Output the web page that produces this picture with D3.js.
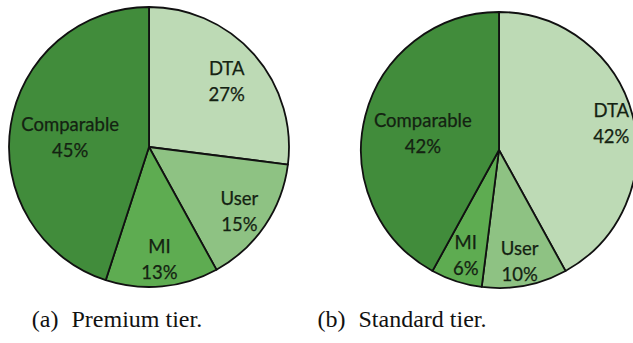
<!DOCTYPE html>
<html>
<head>
<meta charset="utf-8">
<script src="https://cdn.jsdelivr.net/npm/d3@7"></script>
<style>
  html, body { margin: 0; padding: 0; background: #ffffff; }
  svg { display: block; }
</style>
</head>
<body>
<svg id="chart" width="633" height="343"></svg>
<script>
// ---- data ----
const categories = ["DTA", "User", "MI", "Comparable"];
const premiumValues = [27, 15, 13, 45];
const standardValues = [42, 10, 6, 42];
const captionTags = ["(a)", "(b)"];
const captionTexts = ["Premium tier.", "Standard tier."];

// ---- styling / layout (not data) ----
const sliceColors = ["#bddab5", "#8ec283", "#5eac51", "#418c3b"];
const panels = [
  { values: premiumValues, cx: 149, cy: 147, r: 140, labelR: [0.74, 0.78, 0.79, 0.57], capX: 117 },
  { values: standardValues, cx: 499, cy: 150, r: 138, labelR: [0.84, 0.80, 0.78, 0.57], capX: 402 }
];

const svg = d3.select("#chart");
const color = d3.scaleOrdinal().domain(categories).range(sliceColors);
const pie = d3.pie().sort(null).value(d => d.value);

panels.forEach((p, pi) => {
  const data = categories.map((c, i) => ({ cat: c, value: p.values[i], idx: i }));
  const arcs = pie(data);
  const arc = d3.arc().innerRadius(0).outerRadius(p.r);
  const g = svg.append("g").attr("transform", `translate(${p.cx},${p.cy})`);

  g.selectAll("path.slice")
    .data(arcs)
    .join("path")
    .attr("class", "slice")
    .attr("d", arc)
    .attr("fill", d => color(d.data.cat))
    .attr("stroke", "#111")
    .attr("stroke-width", 1.8)
    .attr("stroke-linejoin", "round");

  const labels = g.selectAll("text.lbl")
    .data(arcs)
    .join("text")
    .attr("class", "lbl")
    .attr("transform", d => {
      const lr = p.r * p.labelR[d.data.idx];
      const c = d3.arc().innerRadius(lr).outerRadius(lr).centroid(d);
      return `translate(${c[0]},${c[1]})`;
    })
    .attr("text-anchor", "middle")
    .attr("font-family", "Lato, 'Open Sans', sans-serif")
    .attr("font-size", 18.5)
    .attr("fill", "#142212")
    .attr("stroke", "#142212")
    .attr("stroke-width", 0.25);

  labels.append("tspan").attr("x", 0).attr("dy", "-0.2em").text(d => d.data.cat);
  labels.append("tspan").attr("x", 0).attr("dy", "1.4em").text(d => d.data.value + "%");

  const cap = svg.append("text")
    .attr("x", p.capX)
    .attr("y", 327)
    .attr("text-anchor", "middle")
    .attr("font-family", "'Liberation Serif', 'DejaVu Serif', serif")
    .attr("font-size", 24)
    .attr("fill", "#111");
  cap.append("tspan").text(captionTags[pi]);
  cap.append("tspan").attr("dx", 7).text(" " + captionTexts[pi]);
});
</script>
</body>
</html>
